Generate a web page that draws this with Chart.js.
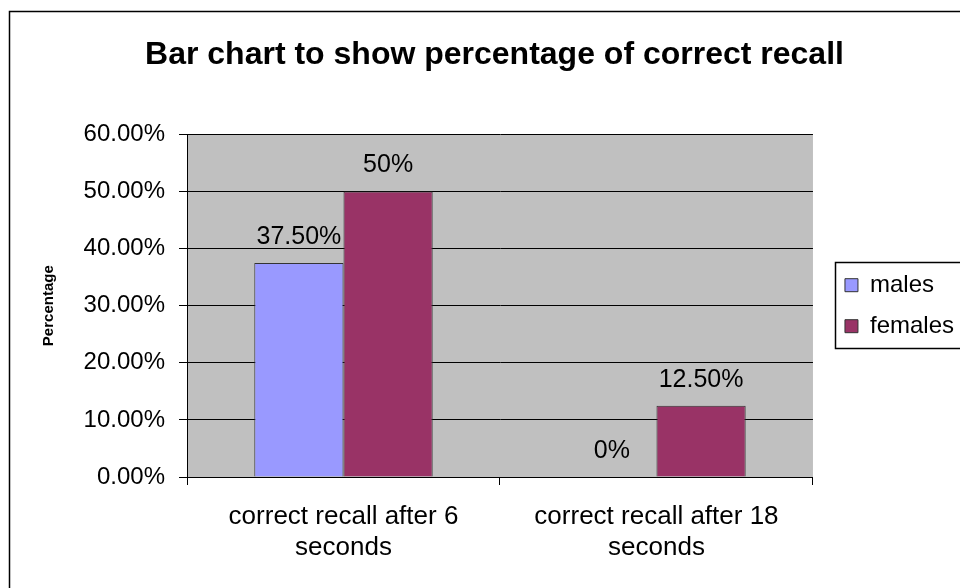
<!DOCTYPE html>
<html><head><meta charset="utf-8">
<style>html,body{margin:0;padding:0;background:#fff;}canvas{display:block;}</style>
<script src="https://cdn.jsdelivr.net/npm/chart.js@4.4.1/dist/chart.umd.min.js"></script>
</head><body>
<canvas id="c" width="960" height="588"></canvas>
<script>
const chartTitle = 'Bar chart to show percentage of correct recall';
const categories = [['correct recall after 6', 'seconds'], ['correct recall after 18', 'seconds']];
const seriesNames = ['males', 'females'];
const malesValues = [0.375, 0];
const femalesValues = [0.5, 0.125];
const malesLabels = ['37.50%', '0%'];
const femalesLabels = ['50%', '12.50%'];
const yTickLabels = ['0.00%', '10.00%', '20.00%', '30.00%', '40.00%', '50.00%', '60.00%'];
const yAxisTitle = 'Percentage';

const FONT = "'Liberation Sans', Arial, sans-serif";
const valueLabels = [malesLabels, femalesLabels];

const plotBackground = {
  id: 'plotBackground',
  beforeDraw(chart) {
    const {ctx, chartArea: a} = chart;
    ctx.save();
    ctx.fillStyle = '#C0C0C0';
    ctx.fillRect(a.left, a.top, a.right - a.left, a.bottom - a.top);
    ctx.restore();
  }
};

const outerFrame = {
  id: 'outerFrame',
  afterDraw(chart) {
    const ctx = chart.ctx;
    ctx.save();
    ctx.strokeStyle = '#000';
    ctx.lineWidth = 1.5;
    ctx.strokeRect(9.5, 11.5, chart.width + 20, chart.height + 20);
    ctx.restore();
  }
};

const barValueLabels = {
  id: 'barValueLabels',
  afterDatasetsDraw(chart) {
    const ctx = chart.ctx;
    ctx.save();
    ctx.font = '25px ' + FONT;
    ctx.fillStyle = '#000';
    ctx.textAlign = 'center';
    ctx.textBaseline = 'middle';
    chart.data.datasets.forEach((ds, di) => {
      chart.getDatasetMeta(di).data.forEach((bar, i) => {
        ctx.fillText(valueLabels[di][i], bar.x, bar.y - 26);
      });
    });
    ctx.restore();
  }
};

const legendFrame = {
  id: 'legendFrame',
  afterUpdate(chart) {
    const lg = chart.legend;
    const dx = 15;
    lg.left += dx; lg.right += dx;
    (lg.legendHitBoxes || []).forEach(h => { h.left += dx; });
  },
  afterDraw(chart) {
    const hb = chart.legend.legendHitBoxes;
    if (!hb || !hb.length) return;
    const ctx = chart.ctx;
    const x0 = hb[0].left - 10;
    const y0 = hb[0].top - 11;
    const last = hb[hb.length - 1];
    const y1 = last.top + last.height + 10;
    ctx.save();
    ctx.strokeStyle = '#000';
    ctx.lineWidth = 1.5;
    ctx.strokeRect(Math.round(x0) + 0.5, Math.round(y0) + 0.5, chart.width, Math.round(y1 - y0));
    ctx.restore();
  }
};

new Chart(document.getElementById('c'), {
  type: 'bar',
  data: {
    labels: categories,
    datasets: [
      { label: seriesNames[0], data: malesValues, backgroundColor: '#9999FF', borderColor: '#333333', borderWidth: 1 },
      { label: seriesNames[1], data: femalesValues, backgroundColor: '#993366', borderColor: '#333333', borderWidth: 1 }
    ]
  },
  options: {
    responsive: false,
    animation: false,
    devicePixelRatio: 1,
    layout: { padding: { left: 40, right: 11, top: 0, bottom: 0 } },
    datasets: { bar: { categoryPercentage: 0.57, barPercentage: 1.0 } },
    plugins: {
      title: {
        display: true,
        text: chartTitle,
        color: '#000',
        font: { family: FONT, size: 32, weight: 'bold', lineHeight: 1.2 },
        padding: { top: 36, bottom: 60 }
      },
      legend: {
        display: true,
        position: 'right',
        fullSize: false,
        align: 'center',
        labels: {
          color: '#000',
          font: { family: FONT, size: 24 },
          boxWidth: 13,
          boxHeight: 13,
          padding: 17
        }
      },
      tooltip: { enabled: false }
    },
    scales: {
      x: {
        offset: true,
        grid: { display: true, offset: true, drawOnChartArea: false, drawTicks: true, tickLength: 8, color: '#000', lineWidth: 1 },
        border: { display: true, color: '#000', width: 1 },
        ticks: { color: '#000', font: { family: FONT, size: 26, lineHeight: 1.2 }, padding: 16, maxRotation: 0, autoSkip: false },
        afterFit(scale) { scale.height = 111; }
      },
      y: {
        min: 0,
        max: 0.6,
        ticks: {
          stepSize: 0.1,
          color: '#000',
          font: { family: FONT, size: 24 },
          padding: 14,
          callback: (v, i) => yTickLabels[i]
        },
        grid: { color: '#000', lineWidth: 1, drawTicks: true, tickLength: 8 },
        border: { display: true, color: '#000', width: 1 },
        title: {
          display: true,
          text: yAxisTitle,
          color: '#000',
          font: { family: FONT, size: 15, weight: 'bold', lineHeight: 1.2 },
          padding: { top: 0, bottom: 0 }
        },
        afterFit(scale) { scale.width = 147; }
      }
    }
  },
  plugins: [plotBackground, barValueLabels, legendFrame, outerFrame]
});
</script>
</body></html>
